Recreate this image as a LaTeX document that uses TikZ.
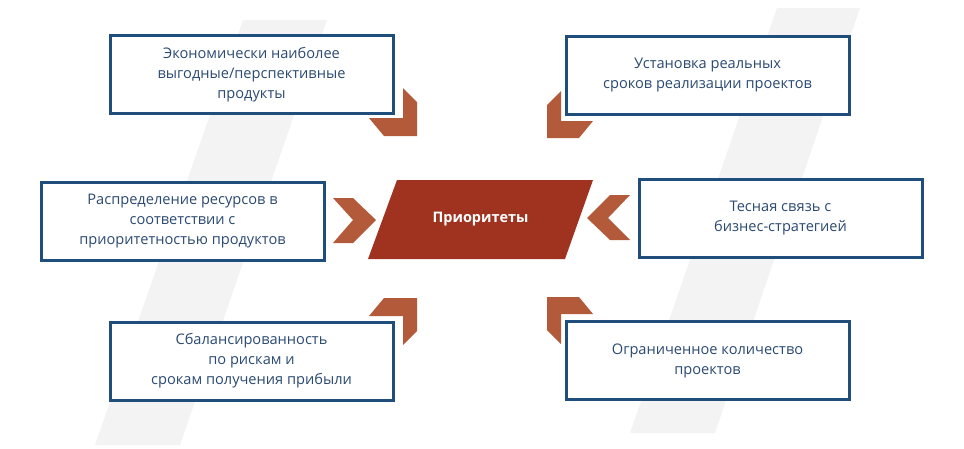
\documentclass[tikz,border=0pt]{standalone}
\usepackage{fontspec}
\setmainfont{Open Sans}
\definecolor{bluetxt}{HTML}{2B4A72}
\definecolor{blueln}{HTML}{1F4E7D}
\definecolor{chev}{HTML}{B35A3A}
\definecolor{prio}{HTML}{A0331F}
\definecolor{stripe}{HTML}{F3F3F4}
\begin{document}
\begin{tikzpicture}[x=1pt,y=-1pt,
  box/.style={draw=blueln,line width=3pt,fill=white,align=center,text=bluetxt,font=\fontsize{14.6}{20}\selectfont,inner sep=0pt,minimum width=283pt,minimum height=78pt},
  chevron/.style={fill=chev}]
\useasboundingbox (0,0) rectangle (964,448);
\fill[stripe] (243,20) -- (327,20) -- (180,445) -- (95,445) -- cycle;
\fill[stripe] (777,8) -- (860,8) -- (715,433) -- (630,433) -- cycle;
\node[box] (b1) at (251.5,74.5) {Экономически наиболее\\выгодные/перспективные\\продукты};
\node[box] (b2) at (707.5,75.5) {Установка реальных\\сроков реализации проектов};
\node[box] (b3) at (182.5,221) {Распределение ресурсов в\\соответствии с\\приоритетностью продуктов};
\node[box] (b4) at (780.5,218) {Тесная связь с\\бизнес-стратегией};
\node[box] (b5) at (251.5,361) {Сбалансированность\\по рискам и\\срокам получения прибыли};
\node[box] (b6) at (707.5,360.5) {Ограниченное количество\\проектов};
\fill[prio] (397,180) -- (593,180) -- (565,259) -- (368,259) -- cycle;
\node[text=white,font=\fontsize{14.5}{16}\selectfont\bfseries] (p) at (480.5,219.5) {Приоритеты};
% side chevrons
\fill[chevron] (333,198) -- (353,198) -- (376,220) -- (353,243) -- (333,243) -- (353,220) -- cycle;
\fill[chevron] (630,195) -- (610,195) -- (587,218) -- (610,240) -- (630,240) -- (608,218) -- cycle;
% diagonal chevrons
\fill[chevron] (403,88) -- (417,102) -- (417,136) -- (384,136) -- (369,118) -- (403,118) -- cycle;
\fill[chevron] (561,91) -- (547,105) -- (547,138) -- (579,138) -- (593,121) -- (561,121) -- cycle;
\fill[chevron] (403,345) -- (417,331) -- (417,298) -- (384,298) -- (369,316) -- (403,316) -- cycle;
\fill[chevron] (561,344) -- (547,330) -- (547,297) -- (579,297) -- (593,314) -- (561,314) -- cycle;
\end{tikzpicture}
\end{document}
